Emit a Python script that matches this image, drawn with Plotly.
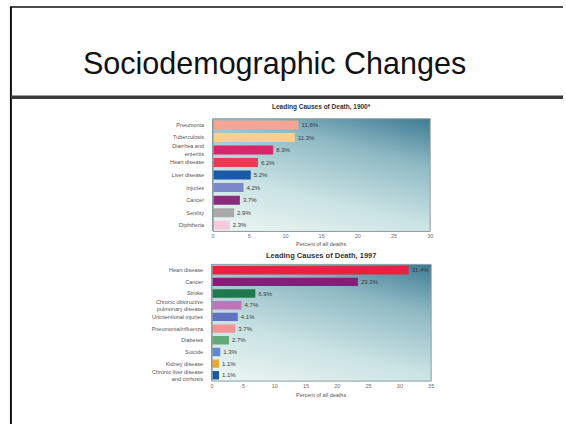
import plotly.graph_objects as go

# ---- data ----
causes_1900 = ["Pneumonia", "Tuberculosis", "Diarrhea and<br>enteritis", "Heart disease",
               "Liver disease", "Injuries", "Cancer", "Senility", "Diphtheria"]
pct_1900 = [11.8, 11.3, 8.3, 6.2, 5.2, 4.2, 3.7, 2.9, 2.3]
colors_1900 = ["#f5a593", "#f8d08e", "#d8256c", "#ea3a52", "#1b58a6",
               "#7b89c8", "#8b2b7c", "#a9a9a9", "#f6cada"]

causes_1997 = ["Heart disease", "Cancer", "Stroke", "Chronic obstructive<br>pulmonary disease",
               "Unintentional injuries", "Pneumonia/influenza", "Diabetes", "Suicide",
               "Kidney disease", "Chronic liver disease<br>and cirrhosis"]
pct_1997 = [31.4, 23.3, 6.9, 4.7, 4.1, 3.7, 2.7, 1.3, 1.1, 1.1]
colors_1997 = ["#e8213f", "#8a1c79", "#1f7a4b", "#c173b9", "#6172c1",
               "#f49393", "#62a97a", "#6189d1", "#e9a932", "#1b58a6"]

ticks_1900 = [0, 5, 10, 15, 20, 25, 30]
ticks_1997 = [0, 5, 10, 15, 20, 25, 30, 35]

W, H = 566, 425
def px(x): return x / W
def py(y): return 1 - y / H

fig = go.Figure()

bg_scale = [[0, "#eef7f4"], [0.35, "#c9e2e3"], [0.7, "#8fbac4"], [1, "#3f7b94"]]
bg_z = [[0.0, 0.3], [0.65, 1.0]]

# background gradients on base axes
fig.add_trace(go.Heatmap(x=[0, 1], y=[0, 1], z=bg_z, zsmooth="best", colorscale=bg_scale,
                         showscale=False, hoverinfo="skip", xaxis="x", yaxis="y"))
fig.add_trace(go.Heatmap(x=[0, 1], y=[0, 1], z=bg_z, zsmooth="best", colorscale=bg_scale,
                         showscale=False, hoverinfo="skip", xaxis="x2", yaxis="y2"))

lab_font = dict(family="Liberation Sans, Arial", size=6, color="#3a3a3a")

fig.add_trace(go.Bar(x=pct_1900, y=causes_1900, orientation="h", marker_color=colors_1900,
                     marker_line_width=0, text=[f"{v}%" for v in pct_1900],
                     textposition="outside", textfont=lab_font, cliponaxis=False,
                     xaxis="x3", yaxis="y3"))
fig.add_trace(go.Bar(x=pct_1997, y=causes_1997, orientation="h", marker_color=colors_1997,
                     marker_line_width=0, text=[f"{v}%" for v in pct_1997],
                     textposition="outside", textfont=lab_font, cliponaxis=False,
                     xaxis="x4", yaxis="y4"))

dom1x = [px(213), px(432)]
dom1y = [py(232), py(119)]
dom2x = [px(212), px(433)]
dom2y = [py(382), py(265)]

hidden = dict(visible=False, range=[0, 1], fixedrange=True)
tickfont = dict(family="Liberation Sans, Arial", size=5.5, color="#707070")
catfont = dict(family="Liberation Sans, Arial", size=5.5, color="#555555")

fig.update_layout(
    width=W, height=H, margin=dict(l=0, r=0, t=0, b=0),
    paper_bgcolor="white", plot_bgcolor="rgba(0,0,0,0)",
    showlegend=False, bargap=0.28,
    xaxis=dict(domain=dom1x, anchor="y", **hidden),
    yaxis=dict(domain=dom1y, anchor="x", **hidden),
    xaxis2=dict(domain=dom2x, anchor="y2", **hidden),
    yaxis2=dict(domain=dom2y, anchor="x2", **hidden),
    xaxis3=dict(overlaying="x", anchor="y3", range=[0, 30], tickvals=ticks_1900,
                showgrid=False, zeroline=False, tickfont=tickfont, ticks="",
                showline=False),
    yaxis3=dict(overlaying="y", anchor="x3", autorange="reversed", categoryorder="array",
                categoryarray=causes_1900, showgrid=False, tickfont=catfont,
                ticks="outside", ticklen=7, tickcolor="rgba(0,0,0,0)",
                showline=True, linecolor="#8a9ca2", linewidth=1),
    xaxis4=dict(overlaying="x2", anchor="y4", range=[0, 35], tickvals=ticks_1997,
                showgrid=False, zeroline=False, tickfont=tickfont, ticks="",
                showline=False),
    yaxis4=dict(overlaying="y2", anchor="x4", autorange="reversed", categoryorder="array",
                categoryarray=causes_1997, showgrid=False, tickfont=catfont,
                ticks="outside", ticklen=7, tickcolor="rgba(0,0,0,0)",
                showline=True, linecolor="#8a9ca2", linewidth=1),
)

shapes = [
    # slide frame
    dict(type="line", xref="paper", yref="paper", x0=px(8), x1=1, y0=py(7), y1=py(7),
         line=dict(color="#111", width=1.5)),
    dict(type="line", xref="paper", yref="paper", x0=px(9), x1=px(9), y0=py(7), y1=0,
         line=dict(color="#111", width=2)),
    dict(type="line", xref="paper", yref="paper", x0=px(9), x1=1, y0=py(97.5), y1=py(97.5),
         line=dict(color="#3a3a3a", width=3.5)),
    # plot frames
    dict(type="rect", xref="paper", yref="paper", x0=dom1x[0], x1=dom1x[1], y0=dom1y[0],
         y1=dom1y[1], line=dict(color="#8a9ca2", width=1)),
    dict(type="rect", xref="paper", yref="paper", x0=dom2x[0], x1=dom2x[1], y0=dom2y[0],
         y1=dom2y[1], line=dict(color="#8a9ca2", width=1)),
]
fig.update_layout(shapes=shapes)

def note(text, x, y, size, color, bold=False):
    return dict(text=f"<b>{text}</b>" if bold else text, x=px(x), y=py(y),
                xref="paper", yref="paper", xanchor="center", yanchor="middle",
                showarrow=False, font=dict(family="Liberation Sans, Arial", size=size,
                                           color=color))

ann = [
    note("Sociodemographic Changes", 275, 64, 30.5, "#111"),
    note("Leading Causes of Death, 1900*", 322, 107, 6.5, "#333", bold=True),
    note("Leading Causes of Death, 1997", 322, 256, 7.5, "#333", bold=True),
    note("Percent of all deaths", 322, 245, 5.5, "#555"),
    note("Percent of all deaths", 322, 395.5, 5.5, "#555"),
]
fig.update_layout(annotations=ann)

fig.write_html("out.html")
